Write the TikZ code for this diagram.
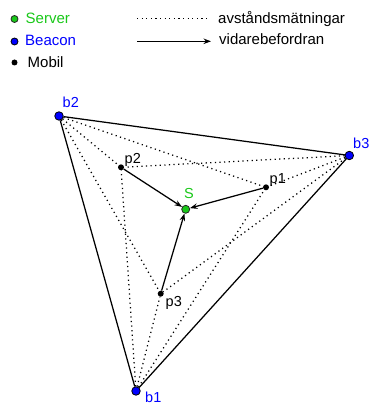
\documentclass[tikz,border=0pt]{standalone}
\usepackage{fontspec}
\setmainfont{Liberation Sans}
\usetikzlibrary{arrows.meta}
\definecolor{srvgreen}{RGB}{25,200,25}
\definecolor{bcnblue}{RGB}{0,0,255}
\begin{document}
\begin{tikzpicture}[x=1pt,y=-1pt,
  beacon/.style={circle,draw=black,fill=bcnblue,line width=0.8pt,inner sep=0pt,minimum size=8.5pt},
  server/.style={circle,draw=black!85,fill=srvgreen,line width=0.8pt,inner sep=0pt,minimum size=8pt},
  mobile/.style={circle,fill=black,inner sep=0pt,minimum size=6pt},
  legtext/.style={font=\fontsize{15}{15}\selectfont,inner sep=0pt,anchor=base west},
  lbl/.style={font=\fontsize{14.5}{14.5}\selectfont,inner sep=0pt,anchor=base west},
  edge/.style={line width=1.25pt},
  measure/.style={line width=1.25pt,dash pattern=on 1.2pt off 3.4pt},
  fwd/.style={line width=1.25pt,-{Stealth[length=7.5pt,width=5.5pt]}}
]
\useasboundingbox (0,0) rectangle (369,406);

% legend
\node[server,minimum size=7pt] (lgS) at (14.5,19) {};
\node[beacon,minimum size=7pt] (lgB) at (14.5,41.5) {};
\node[mobile,minimum size=6pt] (lgM) at (14.5,62.5) {};
\node[legtext,text=srvgreen] (lgSt) at (25.5,24) {Server};
\node[legtext,text=bcnblue] (lgBt) at (25,46) {Beacon};
\node[legtext] (lgMt) at (27.5,68) {Mobil};
\coordinate (dotA) at (137,18.3);
\coordinate (dotB) at (209,18.3);
\coordinate (arrA) at (137,41.3);
\coordinate (arrB) at (211,41.3);
\draw[measure] (dotA) -- (dotB);
\draw[fwd] (arrA) -- (arrB);
\node[legtext] (lgD) at (218,24) {avståndsmätningar};
\node[legtext] (lgF) at (219,45) {vidarebefordran};

% beacons, server and mobiles
\node[beacon] (b1) at (136,391) {};
\node[beacon] (b2) at (59,116) {};
\node[beacon] (b3) at (349.3,155.5) {};
\node[server] (S) at (185.7,209.3) {};
\node[mobile] (p1) at (266,187.3) {};
\node[mobile] (p2) at (121,167.3) {};
\node[mobile] (p3) at (160.7,293.7) {};

% labels
\node[lbl,text=bcnblue] (b1l) at (145,402.5) {b1};
\node[lbl,text=bcnblue] (b2l) at (62.5,108) {b2};
\node[lbl,text=bcnblue] (b3l) at (353,148) {b3};
\node[lbl,text=srvgreen] (Sl) at (184,198.3) {S};
\node[lbl] (p1l) at (269.5,183.5) {p1};
\node[lbl] (p2l) at (124.5,163) {p2};
\node[lbl] (p3l) at (165.5,306.5) {p3};

% distance measurements between every beacon and every mobile
\foreach \b in {b1,b2,b3}
  \foreach \p in {p1,p2,p3}
    \draw[measure] (\b) -- (\p);

% beacon triangle
\draw[edge] (b1) -- (b2) -- (b3) -- (b1);

% forwarding to the server
\draw[fwd] (p1) -- (S);
\draw[fwd] (p2) -- (S);
\draw[fwd] (p3) -- (S);
\end{tikzpicture}
\end{document}
